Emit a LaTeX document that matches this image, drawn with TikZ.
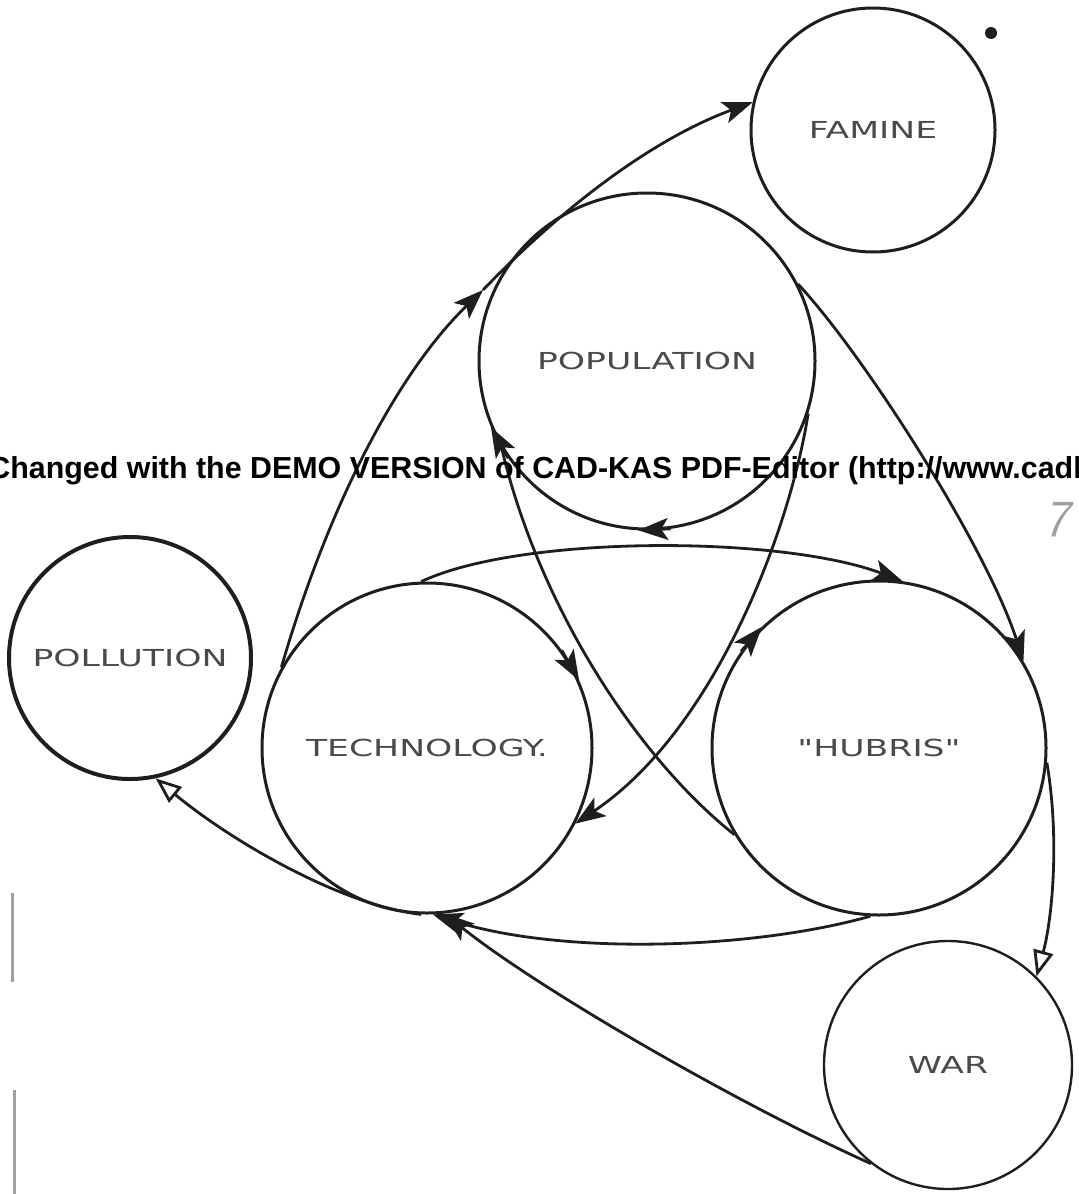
\documentclass[tikz,border=0pt]{standalone}
\usepackage{fontspec}
\usepackage{xcolor}
\usepackage{tikz}
\usetikzlibrary{arrows.meta}
\newfontfamily\capsfont[FakeStretch=1.48]{DejaVu Sans}
\newfontfamily\demofont{Liberation Sans}
\definecolor{ink}{HTML}{1E1E1E}
\definecolor{pencil}{HTML}{4A4A4A}
\definecolor{smudge}{HTML}{A0A0A0}

\begin{document}
\begin{tikzpicture}[
        x=0.5pt, y=-0.5pt,
        loop/.style={
            circle,
            draw=ink,
            line width=1.5pt,
            text=pencil,
            font=\capsfont\fontsize{11.7}{12}\selectfont,
            inner sep=0pt
        },
        flow/.style={
            -{Stealth[length=15pt, width=11pt, inset=3.5pt]},
            line width=1.4pt,
            draw=ink
        },
        hollow/.style={
            -{Triangle[open, length=13pt, width=10pt]},
            line width=1.4pt,
            draw=ink
        },
        link/.style={
            line width=1.4pt,
            draw=ink
        }
    ]
        \useasboundingbox (0,0) rectangle (1078,1194);

        % Circles
        \node[loop, minimum size=122pt] (famine) at (873,130) {FAMINE};
        \node[loop, minimum size=168pt] (pop) at (647,361) {POPULATION};
        \node[loop, minimum size=121pt, line width=2pt] (poll) at (130,658) {POLLUTION};
        \node[loop, minimum size=165pt] (tech) at (427,748) {TECHNOLOGY.};
        \node[loop, minimum size=167pt] (hub) at (879,748) {"HUBRIS"};
        \node[loop, minimum size=124pt, line width=1.2pt] (war) at (948,1065) {WAR};

        % Technology up to population, population on to famine
        \coordinate (popgate) at (483,290);
        \draw[flow] (tech.151) .. controls (330,500) and (400,370) .. (popgate);
        \draw[flow] (popgate) .. controls (560,210) and (650,140) .. (famine.167);

        % Population out to hubris, hubris on to war
        \draw[flow] (pop.27) .. controls (865,356) and (987,548) .. (hub.31);
        \draw[hollow] (hub.-5) .. controls (1060,840) and (1052,920) .. (war.45);

        % Crossing lines
        \draw[flow] (pop.-18) .. controls (790,530) and (715,730) .. (tech.-27);
        \draw[link] (pop.211) .. controls (540,610) and (640,760) .. (hub.211);

        % Technology over to hubris
        \draw[flow] (tech.92) .. controls (520,535) and (780,535) .. (hub.82);

        % Back into technology
        \draw[flow] (hub.-93) .. controls (750,950) and (560,955) .. (tech.-88);
        \draw[flow] (war.-128) .. controls (740,1105) and (540,990) .. (tech.-84);

        % Technology to pollution
        \draw[hollow] (tech.-92) .. controls (340,905) and (230,840) .. (poll.-78);

        % Marks on the circles
        \draw[flow] (pop.-82) -- (pop.-93);
        \draw[flow] (pop.215) -- (pop.203);
        \draw[flow] (tech.36) -- (tech.24);
        \draw[flow] (hub.145) -- (hub.134);

        % Page marks
        \fill[ink] (991,33) circle[radius=6];
        \node[text=smudge, font=\sffamily\itshape\fontsize{26}{26}\selectfont] (pagenum) at (1057,520) {7};
        \draw[smudge, line width=1.5pt] (12,893) -- (12,982);
        \draw[smudge, line width=1.5pt] (14,1090) -- (14,1194);

        % Stamp
        \begin{scope}
            \clip (0,0) rectangle (1078,1194);
            \node[anchor=base west, inner sep=0pt, font=\demofont\bfseries\fontsize{15.2}{16}\selectfont] (demo) at (-12,478)
                {Changed with the DEMO VERSION of CAD-KAS PDF-Editor (http://www.cadkas.com).};
        \end{scope}
    \end{tikzpicture}
\end{document}
